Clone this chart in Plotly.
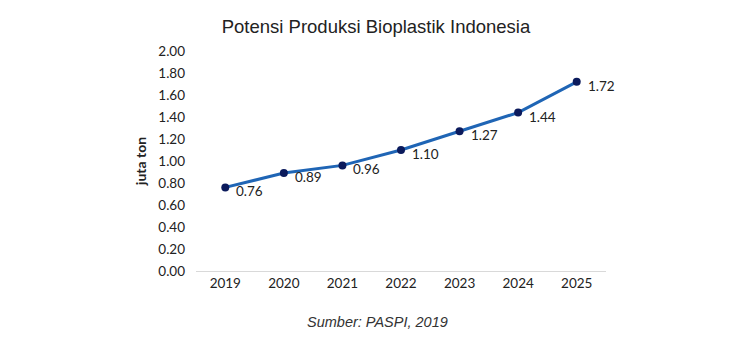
import plotly.graph_objects as go

years = ["2019", "2020", "2021", "2022", "2023", "2024", "2025"]
values = [0.76, 0.89, 0.96, 1.10, 1.27, 1.44, 1.72]
y_ticks = [0.0, 0.2, 0.4, 0.6, 0.8, 1.0, 1.2, 1.4, 1.6, 1.8, 2.0]

fig = go.Figure()
fig.add_trace(go.Scatter(
    x=years, y=values, mode="lines+markers",
    line=dict(color="#1F65B5", width=3),
    marker=dict(color="#0B1A5C", size=8),
    hoverinfo="skip", showlegend=False,
))

for i, v in enumerate(values):
    fig.add_annotation(x=i, y=v, text=f"{v:.2f}", showarrow=False,
                       xanchor="left", yanchor="middle", xshift=9, yshift=-4,
                       font=dict(family="Lato, Open Sans, sans-serif", size=13.5, color="#222222"))

fig.update_layout(
    width=750, height=362,
    paper_bgcolor="white", plot_bgcolor="white",
    margin=dict(l=188, r=152, t=43, b=99),
    title=dict(text="Potensi Produksi Bioplastik Indonesia", x=(376 - 8) / 750, xanchor="center",
               y=1 - 19 / 362, yanchor="middle",
               font=dict(family="Liberation Sans, Arial, sans-serif", size=18.5, color="#222222")),
    xaxis=dict(type="category", range=[-0.5, 6.5], showgrid=False, showline=True,
               linecolor="#D9D9D9", linewidth=1, ticks="", zeroline=False,
               tickfont=dict(family="Lato, Open Sans, sans-serif", size=13.5, color="#222222")),
    yaxis=dict(range=[0, 2.0], tickvals=y_ticks, ticktext=[f"{t:.2f}" for t in y_ticks],
               showgrid=False, showline=False, zeroline=False, ticks="",
               ticklabelstandoff=10,
               tickfont=dict(family="Lato, Open Sans, sans-serif", size=13.5, color="#222222"),
               title=dict(text="<b>juta ton</b>", standoff=8,
                          font=dict(family="Lato, Open Sans, sans-serif", size=14, color="#222222"))),
)

fig.add_annotation(text="<i>Sumber: PASPI, 2019</i>", xref="paper", yref="paper",
                   x=(377 - 196) / (606 - 196), y=-(322 - 271) / 220,
                   xanchor="center", yanchor="middle", showarrow=False,
                   font=dict(family="Liberation Sans, Arial, sans-serif", size=14.5, color="#333333"))

fig.write_html("out.html")
